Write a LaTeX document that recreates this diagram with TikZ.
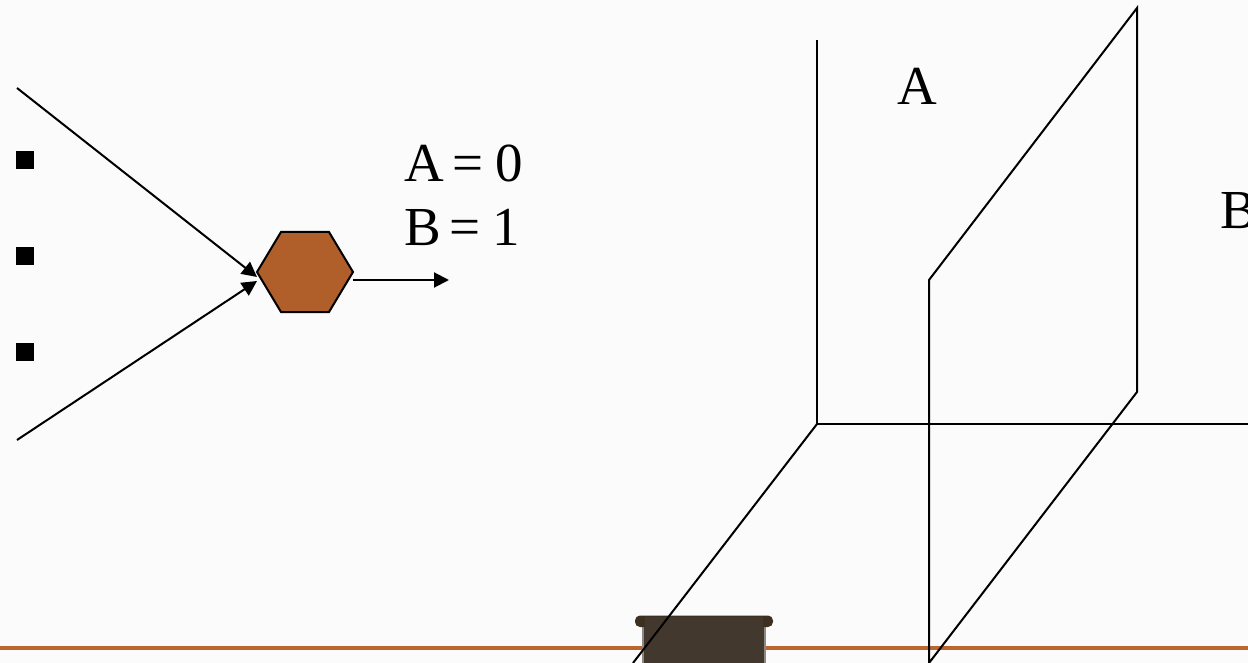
\documentclass[tikz,border=0pt]{standalone}
\usepackage{fontspec}
\setmainfont{Liberation Serif}
\usetikzlibrary{arrows.meta}
\definecolor{pagebg}{HTML}{FBFBFB}
\definecolor{rust}{HTML}{B05F2A}
\definecolor{rulecol}{HTML}{BC662F}
\definecolor{post}{HTML}{43382E}
\definecolor{postcap}{HTML}{3E3020}
\tikzset{
  wire/.style={draw=black,line width=2pt},
  arrowwire/.style={wire,-{Triangle[length=15pt,width=15pt]},shorten >=0pt},
  bigtext/.style={font=\fontsize{55pt}{55pt}\selectfont,inner sep=0pt,anchor=base west,text=black},
  bulletbox/.style={fill=black,draw=none,minimum size=18pt,inner sep=0pt},
}
\begin{document}
\begin{tikzpicture}[x=1pt,y=-1pt]
\useasboundingbox (0,0) rectangle (1248,663);
\clip (0,0) rectangle (1248,663);
\fill[pagebg] (0,0) rectangle (1248,663);
% footer
\fill[rulecol] (0,646) rectangle (1248,650);
\fill[post!60!white] (642,620) rectangle (766,663);
\fill[post] (644,620) rectangle (764,663);
\fill[postcap,rounded corners=5pt] (635,615.5) rectangle (773,627);
\fill[post] (645,617) rectangle (763,663);
% bullets
\node[bulletbox] (b1) at (25,160) {};
\node[bulletbox] (b2) at (25,256) {};
\node[bulletbox] (b3) at (25,352) {};
% hexagon
\coordinate (inA) at (17,88);
\coordinate (inB) at (17,440);
\coordinate (hexinA) at (257,277);
\coordinate (hexinB) at (257,281);
\coordinate (hexout) at (353,280);
\coordinate (outend) at (449,280);
\draw[wire,fill=rust] (257,272) -- (281,232) -- (329,232) -- (353,272) -- (329,312) -- (281,312) -- cycle;
\draw[arrowwire] (inA) -- (hexinA);
\draw[arrowwire] (inB) -- (hexinB);
\draw[arrowwire] (hexout) -- (outend);
% labels
\node[bigtext] (ta) at (404.5,182) {A\hspace{8pt}=\hspace{12pt}0};
\node[bigtext] (tb) at (404.5,246) {B\hspace{8pt}=\hspace{12pt}1};
\node[bigtext] (pa) at (897.5,105) {A};
\node[bigtext] (pb) at (1220,229) {B};
% planes
\coordinate (o) at (817,424);
\coordinate (ot) at (817,40);
\coordinate (or) at (1260,424);
\coordinate (of) at (633,663);
\coordinate (p1) at (929,280);
\coordinate (p2) at (1137,8);
\coordinate (p3) at (1137,392);
\coordinate (p4) at (929,663);
\draw[wire] (ot) -- (o) -- (or);
\draw[wire] (o) -- (of);
\draw[wire] (p4) -- (p1) -- (p2) -- (p3) -- (p4);
\end{tikzpicture}
\end{document}
